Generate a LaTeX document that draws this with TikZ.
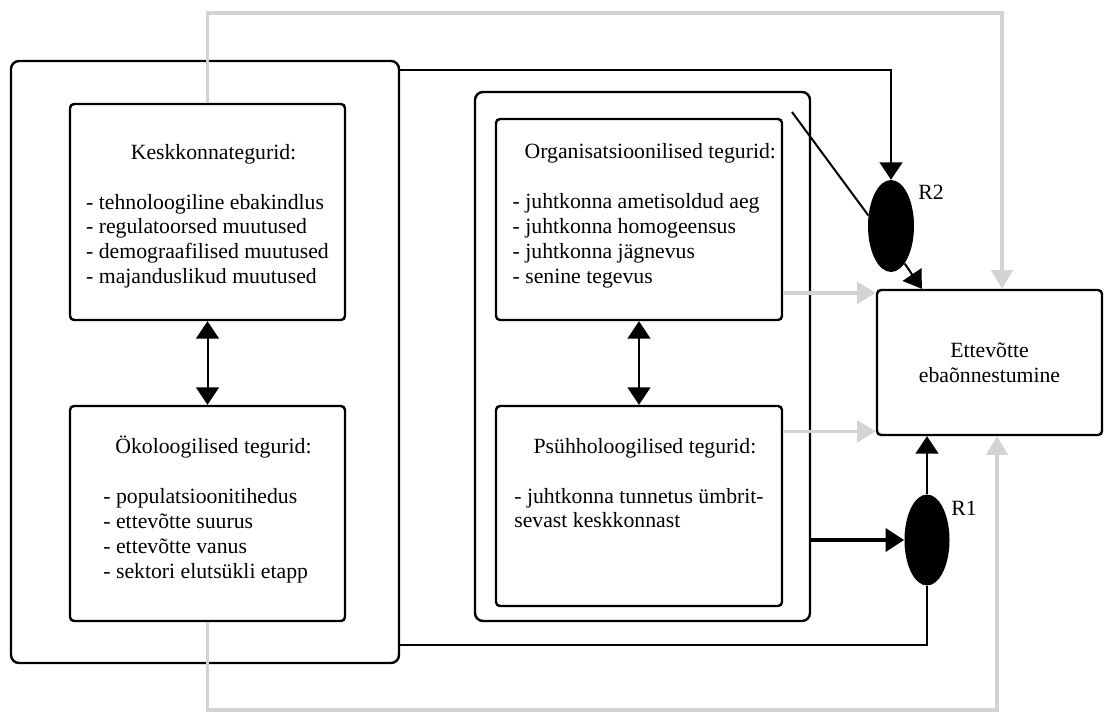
\documentclass[tikz,border=0pt]{standalone}
\usepackage{fontspec}
\setmainfont{Liberation Serif}
\usepackage{xcolor}
\usepackage{tikz}
\usetikzlibrary{arrows.meta,positioning,shapes.geometric}
\definecolor{linegray}{RGB}{211,211,211}

\newcommand{\factortext}[2]{\begin{tabular}{@{}l@{}}\multicolumn{1}{@{\hspace{9pt}}c@{}}{#1}\\[18.7pt]#2\end{tabular}}

\begin{document}
\begin{tikzpicture}[x=0.75pt,y=-0.75pt,>={Triangle[length=13pt,width=17pt]},
  every node/.style={font=\fontsize{16.3}{18.7}\selectfont},
  panel/.style={draw,line width=1.8pt,rounded corners=6pt,inner sep=0pt},
  factor/.style={draw,line width=1.8pt,rounded corners=3pt,inner sep=0pt},
  link/.style={line width=1.5pt},
  heavy/.style={line width=3.5pt,-{Triangle[length=14pt,width=17pt]}},
  grayline/.style={linegray,line width=2.6pt,-{Triangle[length=14pt,width=16pt]}},
  knot/.style={ellipse,fill=black,inner sep=0pt}]
\useasboundingbox (0,0) rectangle (1114,713);

% panels
\node[panel,minimum width=291pt,minimum height=451.5pt] (outer) at (205,362) {};
\node[panel,minimum width=251.25pt,minimum height=396.75pt] (cont) at (642.5,356.5) {};

% factor boxes
\node[factor,minimum width=206.25pt,minimum height=162pt] (kesk) at (207.5,212) {};
\node[factor,minimum width=206.25pt,minimum height=161.25pt] (oeko) at (207.5,513.5) {};
\node[factor,minimum width=214.5pt,minimum height=150.75pt] (org) at (639,219.5) {};
\node[factor,minimum width=214.5pt,minimum height=150pt] (psyh) at (639,506) {};
\node[factor,align=center,minimum width=168.75pt,minimum height=108.75pt] (ette) at (989.5,362.5) {Ettevõtte\\ebaõnnestumine};

\node[inner sep=0pt,below=29pt of kesk.north] (kesktxt) {\factortext{Keskkonnategurid:}{- tehnoloogiline ebakindlus\\- regulatoorsed muutused\\- demograafilised muutused\\- majanduslikud muutused}};
\node[inner sep=0pt,below=23pt of oeko.north] (oekotxt) {\factortext{Ökoloogilised tegurid:}{- populatsioonitihedus\\- ettevõtte suurus\\- ettevõtte vanus\\- sektori elutsükli etapp}};
\node[inner sep=0pt,below=17.6pt of org.north,xshift=4pt] (orgtxt) {\factortext{Organisatsioonilised tegurid:}{- juhtkonna ametisoldud aeg\\- juhtkonna homogeensus\\- juhtkonna jägnevus\\- senine tegevus}};
\node[inner sep=0pt,below=23pt of psyh.north] (psyhtxt) {\factortext{Psühholoogilised tegurid:}{- juhtkonna tunnetus ümbrit-\\sevast keskkonnast}};

% moderators
\node[knot,minimum width=34.5pt,minimum height=69pt] (r2) at (891,226) {};
\node[knot,minimum width=33.75pt,minimum height=68.25pt] (r1) at (927,540) {};
\node (r2lab) at (931,192) {R2};
\node (r1lab) at (964,508) {R1};

\coordinate (topturn) at (1002,13);
\coordinate (botturn) at (997,710);
\coordinate (diagstart) at (792,112);

% gray links
\draw[grayline] (kesk.north) |- (topturn) -- (topturn |- ette.north);
\draw[grayline] (oeko.south) |- (botturn) -- (botturn |- ette.south);
\draw[grayline] ([yshift=-55pt]org.east) -- ([yshift=-55pt]org.east -| ette.west);
\draw[grayline] ([yshift=56pt]psyh.east) -- ([yshift=56pt]psyh.east -| ette.west);

% black links
\draw[link,<->] (kesk) -- (oeko);
\draw[link,<->] (org) -- (psyh);
\draw[link,->] ([yshift=-7.5pt]outer.north east) -| (r2.north);
\draw[link] (diagstart) -- (r2.155);
\draw[link,->] (r2.-70) -- ([xshift=34.5pt]ette.north west);
\draw[heavy] (cont.east |- r1.west) -- (r1.west);
\draw[link,->] (r1.north) -- (r1.north |- ette.south);
\draw[link] ([yshift=14.25pt]outer.south east) -| (r1.south);
\end{tikzpicture}
\end{document}
